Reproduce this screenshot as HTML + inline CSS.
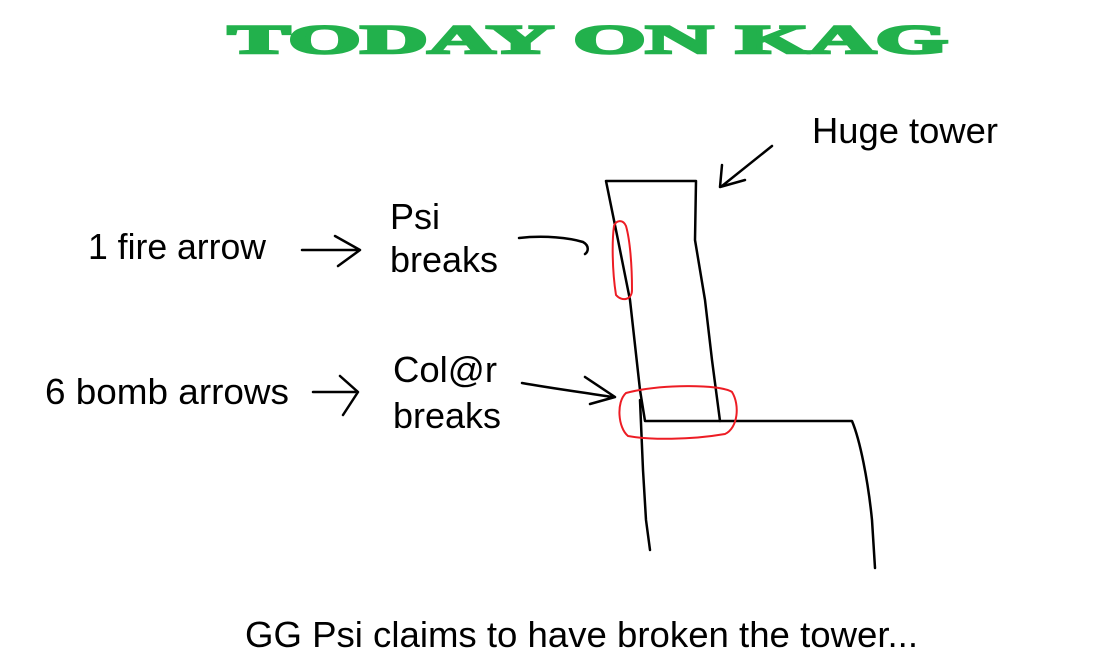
<!DOCTYPE html>
<html><head><style>
html,body{margin:0;padding:0;background:#fff;}
svg{display:block;}
text{font-family:"Liberation Sans",Arial,sans-serif;font-size:36px;fill:#000;}
</style></head><body>
<svg width="1100" height="669" viewBox="0 0 1100 669" xmlns="http://www.w3.org/2000/svg">
<text x="228" y="53" style="font-family:'Liberation Serif',serif;font-weight:900;font-size:40px;fill:#22b14c;stroke:#22b14c;stroke-width:2.5" textLength="720" lengthAdjust="spacingAndGlyphs">TODAY ON KAG</text>
<text x="812" y="143" textLength="186" lengthAdjust="spacingAndGlyphs">Huge tower</text>
<text x="88" y="259" textLength="178" lengthAdjust="spacingAndGlyphs">1 fire arrow</text>
<text x="390" y="229" textLength="50" lengthAdjust="spacingAndGlyphs">Psi</text>
<text x="390" y="272" textLength="108" lengthAdjust="spacingAndGlyphs">breaks</text>
<text x="45" y="404" textLength="244" lengthAdjust="spacingAndGlyphs">6 bomb arrows</text>
<text x="393" y="382" textLength="104" lengthAdjust="spacingAndGlyphs">Col@r</text>
<text x="393" y="428" textLength="108" lengthAdjust="spacingAndGlyphs">breaks</text>
<text x="245" y="647" textLength="673" lengthAdjust="spacingAndGlyphs">GG Psi claims to have broken the tower...</text>
<g fill="none" stroke="#000" stroke-width="2.5" stroke-linecap="round" stroke-linejoin="round">
<path d="M302,250 L358,250 M335,236 L360,250 L338,266"/>
<path d="M313,392 L355,392 M340,376 L358,392 L343,415"/>
<path d="M519,238 C545,235 570,238 583,242 C590,246 588,252 585,254"/>
<path d="M522,383 C550,388 580,392 612,397 M585,377 L615,397 L590,404"/>
<path d="M772,146 L722,186 M722,165 L720,187 L745,180"/>
<path d="M606,181 L696,181 L695,240 L705,300 L712,360 L720,421 L645,421 L640,390 L630,300 L618,240 Z"/>
<path d="M640,400 L643,470 L646,520 L650,550"/>
<path d="M720,421 L852,421 C860,440 868,480 872,520 L875,568"/>
</g>
<g fill="none" stroke="#ed1c24" stroke-width="2">
<path d="M614,226 C612,240 612,270 616,295 C622,302 632,300 632,290 C632,265 630,240 626,226 C623,219 616,220 614,226 Z"/>
<path d="M626,393 C660,384 720,384 732,392 C740,405 738,428 725,434 C690,440 650,440 628,436 C618,428 616,402 626,393 Z"/>
</g>
</svg>
</body></html>
